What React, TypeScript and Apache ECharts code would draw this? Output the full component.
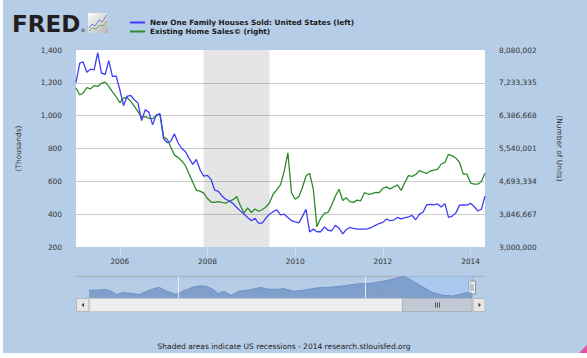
import React, { useEffect, useRef } from 'react';
import * as echarts from 'echarts';

const START_YEAR = 2005;
const MONTH_COUNT = 113;

const NEW_HOUSES = [
  1202, 1320, 1327, 1265, 1283, 1279, 1384, 1259, 1251, 1335, 1238, 1242,
  1158, 1061, 1117, 1123, 1097, 1077, 970, 1036, 1020, 944, 1004, 1012,
  859, 835, 844, 889, 835, 800, 782, 740, 703, 733, 669, 632,
  636, 610, 547, 539, 511, 491, 481, 465, 440, 420, 400, 380,
  360, 375, 345, 345, 375, 400, 415, 426, 396, 400, 380, 360,
  353, 347, 385, 430, 292, 309, 293, 293, 322, 302, 299, 332,
  315, 280, 305, 319, 314, 309, 309, 309, 312, 320, 332, 343,
  350, 370, 360, 364, 380, 371, 378, 384, 392, 366, 400, 412,
  458, 459, 456, 462, 443, 464, 380, 388, 408, 455, 456, 455,
  466, 445, 420, 430, 510,
];

const EXISTING_SALES = [
  7100000, 6920000, 6970000, 7110000, 7080000, 7160000, 7140000, 7220000, 7250000, 7140000, 7000000, 6880000,
  6720000, 6840000, 6860000, 6760000, 6630000, 6490000, 6350000, 6360000, 6320000, 6310000, 6390000, 6430000,
  5840000, 5770000, 5580000, 5370000, 5310000, 5220000, 5100000, 4880000, 4670000, 4460000, 4440000, 4390000,
  4250000, 4160000, 4150000, 4170000, 4150000, 4130000, 4180000, 4220000, 4300000, 4070000, 3870000, 4010000,
  3890000, 3980000, 3920000, 3960000, 4030000, 4140000, 4360000, 4480000, 4610000, 4950000, 5430000, 4400000,
  4230000, 4300000, 4520000, 4830000, 4900000, 4490000, 3520000, 3740000, 3870000, 3890000, 4080000, 4310000,
  4490000, 4200000, 4270000, 4170000, 4150000, 4210000, 4190000, 4400000, 4360000, 4370000, 4410000, 4400000,
  4510000, 4550000, 4500000, 4550000, 4600000, 4460000, 4650000, 4840000, 4820000, 4870000, 4970000, 4930000,
  4900000, 4960000, 4980000, 5000000, 5140000, 5180000, 5390000, 5350000, 5290000, 5180000, 4880000, 4880000,
  4650000, 4620000, 4620000, 4690000, 4900000,
];

const LEFT_TICKS_MIN = 200;
const LEFT_TICKS_MAX = 1400;
const LEFT_TICK_STEP = 200;
const RIGHT_TICKS = [3000000, 3846667, 4693334, 5540001, 6386668, 7233335, 8080002];
const YEAR_TICKS = ['2006-01-01', '2008-01-01', '2010-01-01', '2012-01-01', '2014-01-01'];
const MAIN_RANGE = ['2005-01-01', '2014-05-01'];
const RECESSION = ['2007-12-01', '2009-06-01'];

const NAV_DATES = [
  '1963-01', '1964-01', '1965-04', '1966-03', '1966-09', '1967-08', '1968-12', '1969-10', '1971-02', '1972-06',
  '1973-02', '1973-10', '1974-09', '1975-08', '1976-12', '1977-10', '1978-09', '1979-08', '1980-05', '1981-02',
  '1982-01', '1983-02', '1984-06', '1986-01', '1987-02', '1988-06', '1989-02', '1990-06', '1991-10', '1993-08',
  '1995-05', '1997-02', '1998-12', '2000-09', '2002-06', '2003-10', '2004-10', '2005-05', '2006-06', '2007-10',
  '2009-01', '2010-06', '2011-10', '2012-09', '2013-08', '2014-05',
];
const NAV_VALUES = [
  613, 613, 652, 520, 377, 487, 432, 377, 613, 778,
  613, 520, 377, 558, 778, 850, 833, 668, 432, 558,
  338, 558, 630, 762, 668, 668, 707, 558, 613, 740,
  778, 850, 960, 982, 1108, 1218, 1328, 1345, 1108, 795,
  487, 338, 300, 377, 487, 432,
];
const NAV_RANGE = ['1963-01-01', '2014-05-01'];
const NAV_MARKS = ['1975-01-01', '2000-01-01'];
const NAV_MARK_LABELS = ['1975', '2000'];
const SELECTION = ['2005-01-01', '2014-05-01'];

const SERIES_NAMES = ['New One Family Houses Sold: United States (left)', 'Existing Home Sales\u00a9 (right)'];
const FOOTER = 'Shaded areas indicate US recessions - 2014 research.stlouisfed.org';

function toTime(s: string): number {
  const p = s.split('-').map(Number);
  return new Date(p[0], (p[1] || 1) - 1, p[2] || 1).getTime();
}

function monthTimes(n: number): number[] {
  const out: number[] = [];
  for (let i = 0; i < n; i++) out.push(new Date(START_YEAR, i, 1).getTime());
  return out;
}

const FONT = 'DejaVu Sans';
const fmt = (v: number) => Math.round(v).toLocaleString('en-US');

function buildOption() {
  const months = monthTimes(MONTH_COUNT);
  const blue = months.map((t, i) => [t, NEW_HOUSES[i]]);
  const green = months.map((t, i) => [t, EXISTING_SALES[i]]);
  const nav = NAV_DATES.map((d, i) => [toTime(d), NAV_VALUES[i]]);
  const yearTicks = YEAR_TICKS.map(toTime);
  return {
    animation: false,
    backgroundColor: '#b5cde6',
    textStyle: { fontFamily: FONT },
    legend: {
      orient: 'vertical',
      left: 130,
      top: 18,
      itemWidth: 15,
      itemHeight: 2,
      itemGap: 0,
      icon: 'rect',
      padding: 0,
      data: SERIES_NAMES,
      textStyle: { fontSize: 7.3, fontWeight: 'bold', color: '#1a1a1a', lineHeight: 9, fontFamily: FONT },
    },
    grid: [
      { left: 76, top: 50, width: 409, height: 197, show: true, backgroundColor: '#ffffff', borderWidth: 0, containLabel: false, outerBoundsMode: 'none' },
      { left: 89, top: 276, width: 383, height: 22, show: false, containLabel: false, outerBoundsMode: 'none' },
    ],
    xAxis: [
      {
        type: 'value', gridIndex: 0, min: toTime(MAIN_RANGE[0]), max: toTime(MAIN_RANGE[1]), scale: true,
        axisLine: { show: false },
        axisTick: { show: true, customValues: yearTicks, length: 8, lineStyle: { color: '#cfe0f1' } },
        axisLabel: { customValues: yearTicks, formatter: (v: number) => String(new Date(v).getFullYear()), color: '#333', fontSize: 7.4, margin: 11, fontFamily: FONT },
        splitLine: { show: false },
      },
      {
        type: 'value', gridIndex: 1, position: 'top', min: toTime(NAV_RANGE[0]), max: toTime(NAV_RANGE[1]), scale: true,
        axisLine: { show: false },
        axisTick: { show: false }, axisLabel: { show: false }, splitLine: { show: false },
      },
    ],
    yAxis: [
      {
        type: 'value', gridIndex: 0, min: LEFT_TICKS_MIN, max: LEFT_TICKS_MAX, interval: LEFT_TICK_STEP,
        name: '(Thousands)', nameLocation: 'middle', nameGap: 54,
        nameTextStyle: { fontSize: 7.4, color: '#333', fontFamily: FONT },
        axisLabel: { formatter: fmt, fontSize: 7.4, color: '#333', margin: 14, fontFamily: FONT },
        splitLine: { show: true, lineStyle: { color: '#cccccc', width: 1 }, showMinLine: false, showMaxLine: false },
        axisLine: { show: false }, axisTick: { show: false },
      },
      {
        type: 'value', gridIndex: 0, position: 'right', min: RIGHT_TICKS[0], max: RIGHT_TICKS[RIGHT_TICKS.length - 1],
        name: '(Number of Units)', nameLocation: 'middle', nameGap: 71, nameRotate: -90,
        nameTextStyle: { fontSize: 7.4, color: '#333', fontFamily: FONT },
        axisLabel: { customValues: RIGHT_TICKS, formatter: fmt, fontSize: 7.4, color: '#333', margin: 14, fontFamily: FONT },
        splitLine: { show: false }, axisLine: { show: false }, axisTick: { show: false },
      },
      { type: 'value', gridIndex: 1, min: 190, max: 1390, show: false },
    ],
    series: [
      {
        name: SERIES_NAMES[0], type: 'line', xAxisIndex: 0, yAxisIndex: 0, data: blue,
        symbol: 'none', lineStyle: { color: '#3d3dfa', width: 1.3 }, itemStyle: { color: '#3d3dfa' },
        markArea: {
          silent: true,
          itemStyle: { color: 'rgba(0,0,0,0.1)' },
          data: [[{ xAxis: toTime(RECESSION[0]) }, { xAxis: toTime(RECESSION[1]) }]],
        },
        z: 3,
      },
      {
        name: SERIES_NAMES[1], type: 'line', xAxisIndex: 0, yAxisIndex: 1, data: green,
        symbol: 'none', lineStyle: { color: '#2f8a2f', width: 1.3 }, itemStyle: { color: '#2f8a2f' },
        z: 2,
      },
      {
        name: 'nav', type: 'line', xAxisIndex: 1, yAxisIndex: 2, data: nav,
        symbol: 'none', lineStyle: { color: '#6d90c2', width: 1 },
        areaStyle: { color: '#7fa0cd', opacity: 1 },
        markArea: {
          silent: true,
          itemStyle: { color: 'rgba(160,198,248,0.45)' },
          data: [[{ xAxis: toTime(SELECTION[0]) }, { xAxis: toTime(SELECTION[1]) }]],
        },
        markLine: {
          silent: true, symbol: 'none', label: { show: false },
          lineStyle: { color: '#e4edf7', width: 1, type: 'solid' },
          data: NAV_MARKS.map((d) => ({ xAxis: toTime(d) })),
        },
        markPoint: {
          silent: true, symbol: 'circle', symbolSize: 1,
          itemStyle: { color: 'rgba(0,0,0,0)' },
          label: { show: true, position: 'right', distance: 3, color: '#8b9bb2', fontSize: 7, fontFamily: FONT },
          data: NAV_MARKS.map((d, i) => ({ coord: [toTime(d), 530], label: { formatter: NAV_MARK_LABELS[i] } })),
        },
      },
    ],
  };
}

function buildGraphic(s0: number, s1: number) {
  const g: any[] = [];
  const silent = true;
  g.push({ type: 'rect', silent, shape: { x: 0, y: 0, width: 3, height: 358 }, style: { fill: '#ffffff' } });
  g.push({ type: 'rect', silent, shape: { x: 0, y: 353, width: 587, height: 5 }, style: { fill: '#ffffff' } });
  g.push({ type: 'polygon', silent, shape: { points: [[587, 345], [587, 353], [579, 353]] }, style: { fill: '#e0559f' } });
  g.push({ type: 'text', silent, x: 12, y: 23.5, style: { text: 'FRED', fontSize: 23, fontWeight: 'bold', fontFamily: FONT, fill: '#231f20', verticalAlign: 'middle', align: 'left' } });
  g.push({ type: 'text', silent, x: 80.5, y: 30, style: { text: '\u00ae', fontSize: 5, fontFamily: FONT, fill: '#231f20', verticalAlign: 'middle' } });
  g.push({
    type: 'rect', silent, shape: { x: 88, y: 13, width: 20, height: 20, r: 1 },
    style: { fill: new echarts.graphic.LinearGradient(0, 0, 1, 1, [{ offset: 0, color: '#ffffff' }, { offset: 1, color: '#b4b4b4' }]) },
  });
  g.push({ type: 'polyline', silent, shape: { points: [[89, 28], [92, 24], [95, 26], [99, 20], [102, 22], [107, 15]] }, style: { stroke: '#6f7fe0', lineWidth: 1, fill: null } });
  g.push({ type: 'polyline', silent, shape: { points: [[89, 31], [92, 28], [96, 29], [100, 25], [103, 26], [107, 21]] }, style: { stroke: '#6fae5e', lineWidth: 1, fill: null } });
  g.push({ type: 'line', silent, shape: { x1: 76, y1: 276.5, x2: 485, y2: 276.5 }, style: { stroke: '#a9b4c0', lineWidth: 1.5 } });
  g.push({ type: 'line', silent, shape: { x1: s0, y1: 276, x2: s0, y2: 298 }, style: { stroke: '#9aa7b6', lineWidth: 1 } });
  g.push({ type: 'line', silent, shape: { x1: s1, y1: 276, x2: s1, y2: 298 }, style: { stroke: '#9aa7b6', lineWidth: 1 } });
  g.push({ type: 'rect', silent, shape: { x: 89, y: 298.5, width: 384, height: 13 }, style: { fill: '#eeeeee', stroke: '#c9c9c9', lineWidth: 1 } });
  g.push({ type: 'rect', silent, shape: { x: 76.5, y: 298.5, width: 12.5, height: 13 }, style: { fill: '#e6e6e6', stroke: '#b8b8b8', lineWidth: 1 } });
  g.push({ type: 'polygon', silent, shape: { points: [[81.5, 305], [84, 302.8], [84, 307.2]] }, style: { fill: '#444' } });
  g.push({ type: 'rect', silent, shape: { x: s0, y: 298.5, width: s1 - s0, height: 13 }, style: { fill: '#c1cad4', stroke: '#a9b3be', lineWidth: 1 } });
  g.push({ type: 'rect', silent, shape: { x: 473, y: 298.5, width: 12, height: 13 }, style: { fill: '#e6e6e6', stroke: '#b8b8b8', lineWidth: 1 } });
  g.push({ type: 'polygon', silent, shape: { points: [[481, 305], [478.5, 302.8], [478.5, 307.2]] }, style: { fill: '#444' } });
  const xm = Math.round((s0 + s1) / 2) + 0.5;
  [-2, 0, 2].forEach((d) => g.push({ type: 'line', silent, shape: { x1: xm + d, y1: 302.5, x2: xm + d, y2: 307.5 }, style: { stroke: '#555', lineWidth: 1 } }));
  [s0, s1].forEach((s) => {
    g.push({ type: 'rect', silent, shape: { x: s - 3.5, y: 281, width: 7, height: 13 }, style: { fill: '#f2f2f2', stroke: '#8f8f8f', lineWidth: 1 } });
    [-1, 1].forEach((d) => g.push({ type: 'line', silent, shape: { x1: s + d, y1: 284, x2: s + d, y2: 291 }, style: { stroke: '#8f8f8f', lineWidth: 1 } }));
  });
  g.push({ type: 'text', silent, x: 284, y: 346, style: { text: FOOTER, fontSize: 7.5, fontFamily: FONT, fill: '#222', align: 'center', verticalAlign: 'middle' } });
  return g;
}

export default function App() {
  const ref = useRef<HTMLDivElement>(null);
  useEffect(() => {
    const chart = echarts.init(ref.current as HTMLDivElement, null, { renderer: 'svg' });
    chart.setOption(buildOption() as any);
    const px = (d: string) => chart.convertToPixel({ xAxisIndex: 1 } as any, toTime(d)) as unknown as number;
    const s0 = px(SELECTION[0]);
    const s1 = px(SELECTION[1]);
    chart.setOption({ graphic: buildGraphic(s0, s1) } as any);
    return () => chart.dispose();
  }, []);
  return <div ref={ref} style={{ position: 'fixed', left: 0, top: 0, width: 587, height: 358 }} />;
}
